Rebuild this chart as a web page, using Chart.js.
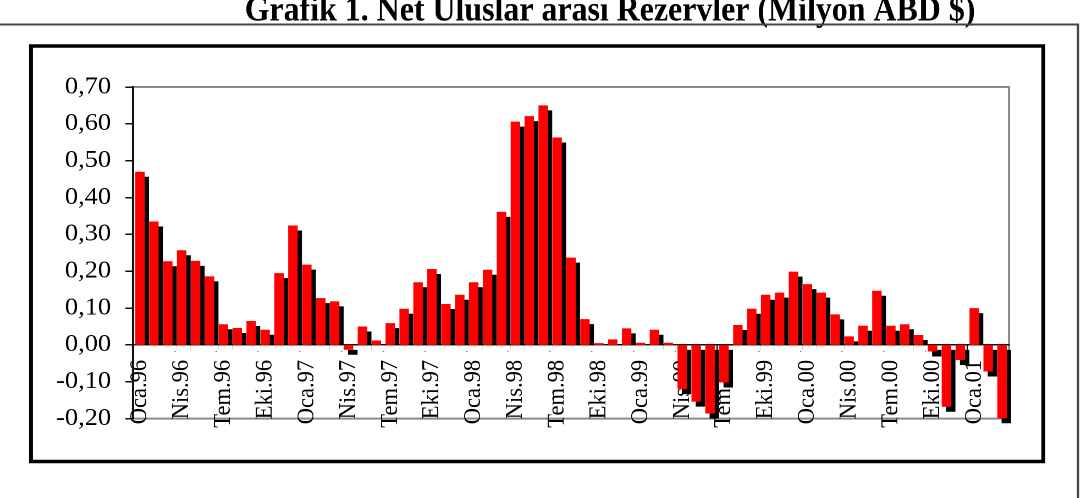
<!DOCTYPE html>
<html>
<head>
<meta charset="utf-8">
<script src="https://cdn.jsdelivr.net/npm/chart.js@4"></script>
<style>
  html, body { margin: 0; padding: 0; background: #fff; }
</style>
</head>
<body>
<!-- the reference is about 10% wider than it is tall, so draw narrow and stretch -->
<canvas id="chart" width="983" height="498" style="display:block;width:1081px;height:498px"></canvas>
<script>
// Data
const title = "Grafik 1. Net Uluslar arası Rezervler (Milyon ABD $)";

const months = [
  "Oca.96", "Şub.96", "Mar.96", "Nis.96", "May.96", "Haz.96", "Tem.96", "Ağu.96", "Eyl.96", "Eki.96", "Kas.96", "Ara.96",
  "Oca.97", "Şub.97", "Mar.97", "Nis.97", "May.97", "Haz.97", "Tem.97", "Ağu.97", "Eyl.97", "Eki.97", "Kas.97", "Ara.97",
  "Oca.98", "Şub.98", "Mar.98", "Nis.98", "May.98", "Haz.98", "Tem.98", "Ağu.98", "Eyl.98", "Eki.98", "Kas.98", "Ara.98",
  "Oca.99", "Şub.99", "Mar.99", "Nis.99", "May.99", "Haz.99", "Tem.99", "Ağu.99", "Eyl.99", "Eki.99", "Kas.99", "Ara.99",
  "Oca.00", "Şub.00", "Mar.00", "Nis.00", "May.00", "Haz.00", "Tem.00", "Ağu.00", "Eyl.00", "Eki.00", "Kas.00", "Ara.00",
  "Oca.01", "Şub.01", "Mar.01",
];

const reserves = [
  0.470, 0.335, 0.227, 0.257, 0.228, 0.186, 0.056, 0.046, 0.065, 0.041, 0.195, 0.324,
  0.218, 0.127, 0.118, -0.013, 0.050, 0.012, 0.059, 0.098, 0.170, 0.206, 0.111, 0.136,
  0.170, 0.204, 0.361, 0.606, 0.621, 0.650, 0.563, 0.237, 0.070, 0.005, 0.015, 0.045,
  0.006, 0.041, 0.006, -0.120, -0.154, -0.186, -0.102, 0.054, 0.098, 0.136, 0.142, 0.199,
  0.165, 0.142, 0.083, 0.023, 0.052, 0.147, 0.052, 0.056, 0.027, -0.018, -0.168, -0.041,
  0.100, -0.072, -0.199,
];

const labelEvery = 3; // only every third month gets a label
const yMin = -0.2;
const yMax = 0.7;
const yStep = 0.1;

// Layout helpers
const STRETCH = 1081 / 983;
const px = (x) => x / STRETCH; // reference x -> canvas x
const SHADOW_X = 3.9;
const SHADOW_Y = 5;

Chart.defaults.font.family = "'Liberation Serif', 'Times New Roman', serif";
Chart.defaults.color = "#000";

const framePlugin = {
  id: "frames",
  beforeDraw(chart) {
    const { ctx, chartArea: area } = chart;
    ctx.save();
    ctx.fillStyle = "#fff";
    ctx.fillRect(0, 0, chart.width, chart.height);

    // title, taller than wide and cut off at the top in the reference
    ctx.save();
    ctx.scale(1, 1.2);
    ctx.fillStyle = "#000";
    ctx.font = "bold 29px 'Liberation Serif'";
    ctx.textAlign = "center";
    ctx.textBaseline = "alphabetic";
    ctx.fillText(title, px(610), 20.5 / 1.2);
    ctx.restore();

    // page frame (top and right side)
    ctx.strokeStyle = "#444";
    ctx.lineWidth = 2;
    ctx.beginPath();
    ctx.moveTo(0, 24.5);
    ctx.lineTo(px(1078), 24.5);
    ctx.lineTo(px(1078), chart.height);
    ctx.stroke();

    // chart box
    ctx.strokeStyle = "#000";
    ctx.lineWidth = 3.5;
    ctx.strokeRect(px(31), 46, px(1043.3) - px(31), 461.5 - 46);

    // plot area
    ctx.strokeStyle = "#8a8a8a";
    ctx.lineWidth = 2;
    ctx.strokeRect(area.left, area.top, area.right - area.left, area.bottom - area.top);
    ctx.restore();
  },
};

// black drop shadow to the lower right of each bar
const shadowPlugin = {
  id: "barShadow",
  beforeDatasetDraw(chart) {
    const ratio = chart.currentDevicePixelRatio;
    chart.ctx.save();
    chart.ctx.shadowColor = "#000";
    chart.ctx.shadowBlur = 0;
    chart.ctx.shadowOffsetX = SHADOW_X * ratio;
    chart.ctx.shadowOffsetY = SHADOW_Y * ratio;
  },
  afterDatasetDraw(chart, args) {
    const ctx = chart.ctx;
    ctx.restore();
    // shadows of positive bars stop at the zero line
    const zero = chart.scales.y.getPixelForValue(0);
    ctx.save();
    ctx.fillStyle = "#fff";
    args.meta.data.forEach((bar, i) => {
      if (reserves[i] <= 0) return;
      const { x, width } = bar.getProps(["x", "width"], true);
      ctx.fillRect(x - width / 2, zero + 0.5, width + SHADOW_X, SHADOW_Y + 0.5);
    });
    ctx.restore();
  },
};

function formatTick(value) {
  const v = Math.abs(value) < 1e-9 ? 0 : value;
  return v.toFixed(2).replace(".", ",");
}

new Chart(document.getElementById("chart"), {
  type: "bar",
  data: {
    labels: months,
    datasets: [
      {
        data: reserves,
        backgroundColor: "#ff0000",
        borderWidth: 0,
        barPercentage: 0.68,
        categoryPercentage: 1,
        clip: 12,
      },
    ],
  },
  options: {
    responsive: false,
    animation: false,
    devicePixelRatio: 2,
    layout: {
      padding: { left: 0, top: 87, right: 983 - px(1009), bottom: 498 - 418.6 },
    },
    plugins: {
      legend: { display: false },
      tooltip: { enabled: false },
    },
    scales: {
      x: {
        position: { y: 0 },
        z: 1,
        offset: true,
        grid: {
          offset: true,
          drawOnChartArea: false,
          tickLength: 6,
          lineWidth: 1.2,
          tickColor: (c) => (c.index % labelEvery === 0 ? "#000" : "rgba(0,0,0,0)"),
        },
        border: { color: "#111", width: 1.5 },
        ticks: {
          autoSkip: false,
          minRotation: 90,
          maxRotation: 90,
          padding: 9,
          font: { size: 22.5 },
          callback: (value, index) => (index % labelEvery === 0 ? months[index] : ""),
        },
      },
      y: {
        min: yMin,
        max: yMax,
        grid: {
          drawOnChartArea: false,
          tickLength: 7,
          color: "#111",
          lineWidth: 1.5,
        },
        border: { color: "#111", width: 2 },
        ticks: {
          stepSize: yStep,
          padding: 13,
          font: { size: 24 },
          callback: formatTick,
        },
        afterFit(scale) {
          scale.width = px(133);
        },
      },
    },
  },
  plugins: [framePlugin, shadowPlugin],
});
</script>
</body>
</html>
